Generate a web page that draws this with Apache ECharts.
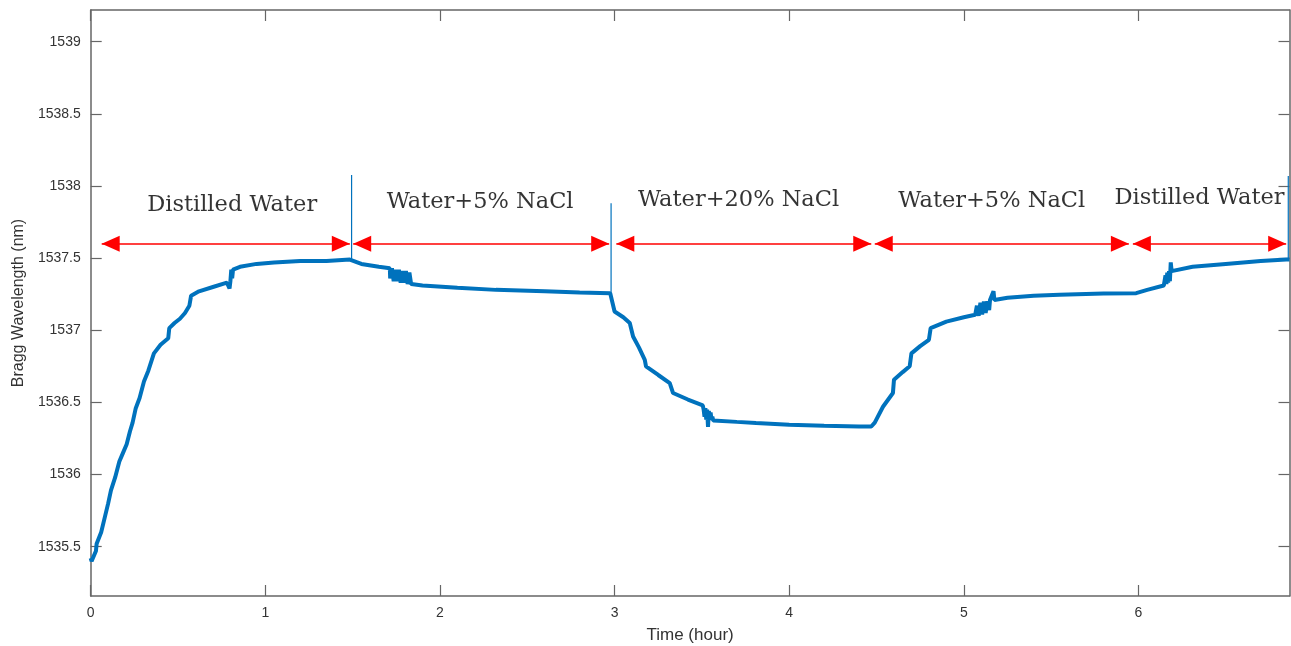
<!DOCTYPE html>
<html lang="en">
<head>
    <meta charset="UTF-8">
    <title>Bragg Wavelength</title>
    <script src="https://cdn.jsdelivr.net/npm/echarts@6/dist/echarts.min.js"></script>
    <style>
        html, body { margin: 0; padding: 0; background: #fff; }
    </style>
</head>
<body>
<div id="main" style="width: 1291px;height:646px;"></div>
<script type="text/javascript">
    var hours = [
        0.00, 0.005, 0.015, 0.03, 0.034, 0.06, 0.082, 0.10, 0.116, 0.14,
        0.164, 0.185, 0.206, 0.225, 0.24, 0.258, 0.28, 0.305, 0.33, 0.362,
        0.40, 0.444, 0.45, 0.48, 0.511, 0.54, 0.565, 0.575, 0.62, 0.70,
        0.78, 0.79, 0.795, 0.80, 0.805, 0.81, 0.815, 0.82, 0.855, 0.95,
        1.05, 1.2, 1.35, 1.484, 1.494, 1.55, 1.65, 1.713,
        1.715, 1.725, 1.735, 1.745, 1.755, 1.765, 1.775, 1.785, 1.795, 1.805,
        1.815, 1.825, 1.835, 1.845,
        1.9, 2.1, 2.32, 2.6, 2.8, 2.975, 3.0, 3.05, 3.087, 3.106,
        3.14, 3.173, 3.18, 3.25, 3.316, 3.335, 3.42, 3.505,
        3.51, 3.515, 3.52, 3.525, 3.53, 3.535, 3.54, 3.545, 3.55, 3.555, 3.56, 3.565,
        3.7, 3.81, 4.0, 4.2, 4.4, 4.47, 4.49,
        4.537, 4.594, 4.60, 4.65, 4.69, 4.70, 4.75, 4.80, 4.81, 4.9,
        5.0, 5.065, 5.07, 5.075, 5.085, 5.095, 5.105, 5.115, 5.125, 5.135, 5.145, 5.15, 5.17, 5.175,
        5.25, 5.4, 5.548, 5.8, 5.987, 6.05, 6.145,
        6.15, 6.155, 6.16, 6.165, 6.17, 6.175, 6.18, 6.185, 6.19,
        6.31, 6.5, 6.7, 6.846, 6.865
    ];
    var wavelength = [
        1535.42, 1535.40, 1535.41, 1535.47, 1535.52, 1535.60, 1535.71, 1535.80, 1535.89, 1535.98,
        1536.09, 1536.15, 1536.21, 1536.30, 1536.36, 1536.46, 1536.53, 1536.645, 1536.72, 1536.84,
        1536.90, 1536.945, 1537.015, 1537.05, 1537.08, 1537.12, 1537.17, 1537.24, 1537.27, 1537.30,
        1537.33, 1537.33, 1537.29, 1537.34, 1537.42, 1537.36, 1537.42, 1537.43, 1537.44, 1537.46,
        1537.47, 1537.48, 1537.48, 1537.49, 1537.48, 1537.46, 1537.44, 1537.43,
        1537.36, 1537.43, 1537.34, 1537.42, 1537.34, 1537.42, 1537.33, 1537.41, 1537.33, 1537.41,
        1537.32, 1537.40, 1537.32, 1537.33,
        1537.31, 1537.295, 1537.28, 1537.27, 1537.262, 1537.257, 1537.13, 1537.09, 1537.05, 1536.957,
        1536.88, 1536.795, 1536.75, 1536.69, 1536.634, 1536.565, 1536.52, 1536.48,
        1536.45, 1536.40, 1536.46, 1536.38, 1536.45, 1536.33, 1536.44, 1536.38, 1536.43, 1536.38, 1536.40, 1536.375,
        1536.365, 1536.357, 1536.345, 1536.338, 1536.333, 1536.333, 1536.36,
        1536.47, 1536.565, 1536.657, 1536.71, 1536.75, 1536.84, 1536.89, 1536.934, 1537.015, 1537.06,
        1537.09, 1537.107, 1537.11, 1537.17, 1537.10, 1537.19, 1537.11, 1537.20, 1537.12, 1537.20, 1537.14, 1537.21, 1537.27, 1537.21,
        1537.225, 1537.24, 1537.246, 1537.255, 1537.257, 1537.28, 1537.31,
        1537.31, 1537.38, 1537.32, 1537.40, 1537.33, 1537.41, 1537.34, 1537.47, 1537.41,
        1537.44, 1537.46, 1537.48, 1537.49, 1537.49
    ];

    // single-sample spikes at the solution changes
    var spikeHours = [1.494, 2.98, 6.858];
    var spikeBase = [1537.49, 1537.257, 1537.49];
    var spikeTop = [1538.077, 1537.88, 1538.07];

    // stage arrows and their labels
    var stageLabels = ['Distilled Water', 'Water+5% NaCl', 'Water+20% NaCl', 'Water+5% NaCl', 'Distilled Water'];
    var arrowFrom = [0.063, 1.503, 3.01, 4.49, 5.968];
    var arrowTo = [1.484, 2.969, 4.47, 5.945, 6.846];
    var arrowLevel = 1537.6;
    var labelHours = [0.81, 2.23, 3.71, 5.16, 6.35];
    var labelLevels = [1537.869, 1537.89, 1537.904, 1537.897, 1537.918];

    // tick labels
    var xTicks = [0, 1, 2, 3, 4, 5, 6];
    var yTicks = [1535.5, 1536, 1536.5, 1537, 1537.5, 1538, 1538.5, 1539];

    var xMin = 0, xMax = 6.865;
    var yMin = 1535.158, yMax = 1539.22;

    var axisColor = '#666';
    var sans = 'Liberation Sans, Arial, sans-serif';
    var labelFont = { color: '#333', fontSize: 14, fontFamily: sans };

    var myChart = echarts.init(document.getElementById('main'));

    var curve = hours.map(function (h, i) { return [h, wavelength[i]]; });

    var spikeSeries = spikeHours.map(function (h, i) {
        return {
            type: 'line',
            data: [[h, spikeBase[i]], [h, spikeTop[i]]],
            showSymbol: false,
            lineStyle: { color: '#0072BD', width: 1.2 },
            silent: true,
            z: 3
        };
    });

    var arrowData = arrowFrom.map(function (a, i) {
        return [{ coord: [a, arrowLevel] }, { coord: [arrowTo[i], arrowLevel] }];
    });

    var labelData = labelHours.map(function (h, i) { return [h, labelLevels[i], stageLabels[i]]; });

    function plain(v) { return String(v); }

    function sideX(pos, showLabel) {
        return {
            type: 'value', position: pos, min: xMin, max: xMax,
            splitLine: { show: false },
            axisLine: { show: true, onZero: false, lineStyle: { color: axisColor, width: 1.5 } },
            axisTick: { show: true, inside: true, length: 11, customValues: xTicks, lineStyle: { color: axisColor, width: 1.2 } },
            axisLabel: Object.assign({ show: showLabel, margin: 10, customValues: xTicks, formatter: plain }, labelFont)
        };
    }
    function sideY(pos, showLabel) {
        return {
            type: 'value', position: pos, min: yMin, max: yMax,
            splitLine: { show: false },
            axisLine: { show: true, onZero: false, lineStyle: { color: axisColor, width: 1.5 } },
            axisTick: { show: true, inside: true, length: 11, customValues: yTicks, lineStyle: { color: axisColor, width: 1.2 } },
            axisLabel: Object.assign({ show: showLabel, margin: 10, customValues: yTicks, formatter: plain }, labelFont)
        };
    }

    var xBottom = sideX('bottom', true);
    xBottom.name = 'Time (hour)';
    xBottom.nameLocation = 'middle';
    xBottom.nameGap = 31;
    xBottom.nameTextStyle = { color: '#333', fontSize: 17, fontFamily: sans };
    var xTop = sideX('top', false);

    var yLeft = sideY('left', true);
    yLeft.name = 'Bragg Wavelength (nm)';
    yLeft.nameLocation = 'middle';
    yLeft.nameGap = 56;
    yLeft.nameTextStyle = { color: '#333', fontSize: 16, fontFamily: sans };
    var yRight = sideY('right', false);

    var option = {
        animation: false,
        backgroundColor: '#fff',
        grid: { left: 90.7, right: 1.5, top: 10, bottom: 50, containLabel: false, outerBoundsMode: 'none' },
        xAxis: [xBottom, xTop],
        yAxis: [yLeft, yRight],
        series: [
            {
                name: 'Bragg wavelength',
                type: 'line',
                data: curve,
                showSymbol: false,
                lineStyle: { color: '#0072BD', width: 4 },
                z: 2,
                markLine: {
                    silent: true,
                    symbol: ['triangle', 'triangle'],
                    symbolSize: [16, 18],
                    symbolOffset: [[0, '50%'], [0, '50%']],
                    label: { show: false },
                    lineStyle: { color: '#ff0000', width: 1.5, type: 'solid' },
                    itemStyle: { color: '#ff0000' },
                    data: arrowData
                }
            },
            {
                type: 'scatter',
                data: labelData,
                symbolSize: 0,
                silent: true,
                label: {
                    show: true,
                    position: 'inside',
                    formatter: function (p) { return p.data[2]; },
                    color: '#000',
                    fontSize: 22.5,
                    fontFamily: 'DejaVu Serif, Liberation Serif, serif'
                }
            }
        ].concat(spikeSeries)
    };

    myChart.setOption(option);
</script>
</body>
</html>
